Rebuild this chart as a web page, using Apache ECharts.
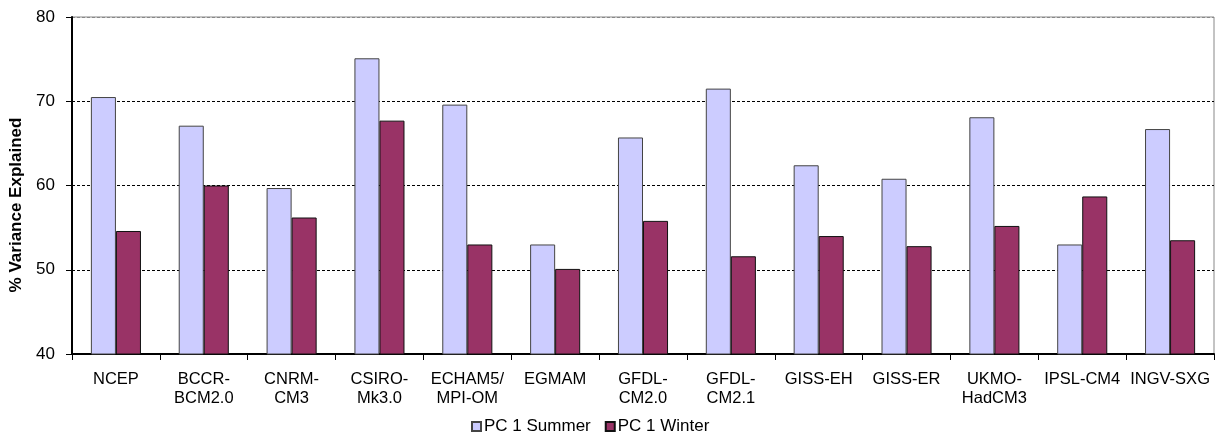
<!DOCTYPE html>
<html>
<head>
<meta charset="utf-8">
<script src="https://cdn.jsdelivr.net/npm/echarts@6/dist/echarts.min.js"></script>
<style>
  html, body { margin: 0; padding: 0; background: #fff; }
  #chart { width: 1221px; height: 440px; }
</style>
</head>
<body>
<div id="chart"></div>
<script>
// --- data ---
const categories = ['NCEP', 'BCCR-\nBCM2.0', 'CNRM-\nCM3', 'CSIRO-\nMk3.0', 'ECHAM5/\nMPI-OM', 'EGMAM',
  'GFDL-\nCM2.0', 'GFDL-\nCM2.1', 'GISS-EH', 'GISS-ER', 'UKMO-\nHadCM3', 'IPSL-CM4', 'INGV-SXG']
const summer = [70.5, 67.1, 59.7, 75.1, 69.6, 53.0, 65.7, 71.5, 62.4, 60.8, 68.1, 53.0, 66.7]
const winter = [54.6, 60.0, 56.2, 67.7, 53.0, 50.1, 55.8, 51.6, 54.0, 52.8, 55.2, 58.7, 53.5]
const seriesNames = ['PC 1 Summer', 'PC 1 Winter']

const FONT = 'Liberation Sans, Arial, sans-serif'

const chart = echarts.init(document.getElementById('chart'))

chart.setOption({
  backgroundColor: '#fff',
  animation: false,
  grid: { left: 72, right: 7, top: 17, bottom: 86, show: true, borderColor: '#888', borderWidth: 1 },
  legend: {
    bottom: 0,
    left: 466,
    itemWidth: 9,
    itemHeight: 9,
    itemGap: 14,
    textStyle: { fontFamily: FONT, fontSize: 17, color: '#000', padding: [0, 0, 0, -2] },
    data: seriesNames.map(n => ({ name: n, icon: 'rect' }))
  },
  xAxis: {
    type: 'category',
    data: categories,
    axisLine: { lineStyle: { color: '#000', width: 2 } },
    axisTick: { show: true, length: 6, lineStyle: { color: '#000', width: 1 } },
    axisLabel: { fontFamily: FONT, fontSize: 16.5, color: '#000', margin: 16, lineHeight: 19, interval: 0 }
  },
  yAxis: {
    type: 'value',
    min: 40,
    max: 80,
    interval: 10,
    name: '% Variance Explained',
    nameLocation: 'middle',
    nameGap: 44,
    nameTextStyle: { fontFamily: FONT, fontSize: 17, fontWeight: 'bold', color: '#000', padding: [0, 39, 0, 0] },
    axisLine: { show: true, lineStyle: { color: '#000', width: 2 } },
    axisTick: { show: true, length: 6, lineStyle: { color: '#000' } },
    axisLabel: { fontFamily: FONT, fontSize: 17, color: '#000', margin: 17 },
    splitLine: { lineStyle: { color: ['#000', '#000', '#000', '#000', '#888'], type: [3, 2], width: 1 } }
  },
  series: [
    {
      name: seriesNames[0],
      type: 'bar',
      data: summer,
      barWidth: '28.5%',
      barGap: '0%',
      itemStyle: { color: '#ccccff', borderColor: '#444', borderWidth: 1 }
    },
    {
      name: seriesNames[1],
      type: 'bar',
      data: winter,
      barWidth: '28.5%',
      barGap: '0%',
      itemStyle: { color: '#993366', borderColor: '#111', borderWidth: 1 }
    }
  ]
})
</script>
</body>
</html>
